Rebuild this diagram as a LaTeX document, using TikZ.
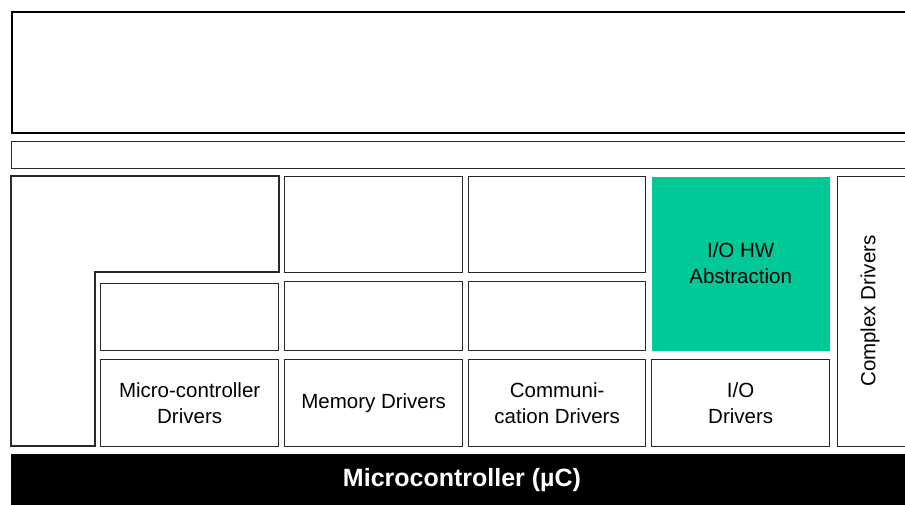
\documentclass[tikz,border=0pt]{standalone}
\usepackage{fontspec}
\setmainfont{Liberation Sans}
\definecolor{iogreen}{RGB}{0,201,151}
\definecolor{edge}{RGB}{40,40,40}
\tikzset{
  blk/.style={draw=edge, line width=1.3pt, rectangle, inner sep=0pt, anchor=north west,
    align=center, font=\fontsize{20.5}{26}\selectfont},
  bigblk/.style={draw=black, line width=2pt, rectangle, inner sep=0pt, anchor=north west},
}
\begin{document}
\begin{tikzpicture}[x=1pt,y=-1pt]
\useasboundingbox (0,0) rectangle (905,504);
\clip (0,0) rectangle (905,504);
\fill[white] (0,0) rectangle (905,504);
% top layers
\node[bigblk, minimum width=920pt, minimum height=121pt] (app) at (11,11) {};
\node[blk, minimum width=920pt, minimum height=27pt] (rte) at (11,141) {};
% L-shaped services block
\draw[draw=edge, line width=1.3pt] (11,176) -- (279,176) -- (279,272) -- (95,272) -- (95,446) -- (11,446) -- cycle;
% column 1
\node[blk, minimum width=178pt, minimum height=67pt] (c1m) at (100,283) {};
\node[blk, minimum width=178pt, minimum height=87pt] (c1b) at (100,359) {Micro-controller\\Drivers};
% column 2
\node[blk, minimum width=178pt, minimum height=96pt] (c2t) at (284,176) {};
\node[blk, minimum width=178pt, minimum height=69pt] (c2m) at (284,281) {};
\node[blk, minimum width=178pt, minimum height=87pt] (c2b) at (284,359) {Memory Drivers};
% column 3
\node[blk, minimum width=177pt, minimum height=96pt] (c3t) at (468,176) {};
\node[blk, minimum width=177pt, minimum height=69pt] (c3m) at (468,281) {};
\node[blk, minimum width=177pt, minimum height=87pt] (c3b) at (468,359) {Communi-\\cation Drivers};
% column 4
\node[blk, draw=none, fill=iogreen, minimum width=178pt, minimum height=174pt] (ioa) at (651,176) {I/O HW\\Abstraction};
\node[blk, minimum width=178pt, minimum height=87pt] (iod) at (651,359) {I/O\\Drivers};
% complex drivers
\node[blk, minimum width=90pt, minimum height=270pt] (cdd) at (837,176) {};
\node[rotate=90, font=\fontsize{20.5}{26}\selectfont, inner sep=0pt] (cddl) at (870,311) {Complex Drivers};
% microcontroller bar
\node[rectangle, fill=black, inner sep=0pt, anchor=north west, minimum width=900pt, minimum height=55pt] (mcu) at (11,454) {};
\node[text=white, font=\fontsize{25}{30}\selectfont\bfseries, inner sep=0pt] (mcul) at (462,480) {Microcontroller (µC)};
\end{tikzpicture}
\end{document}
